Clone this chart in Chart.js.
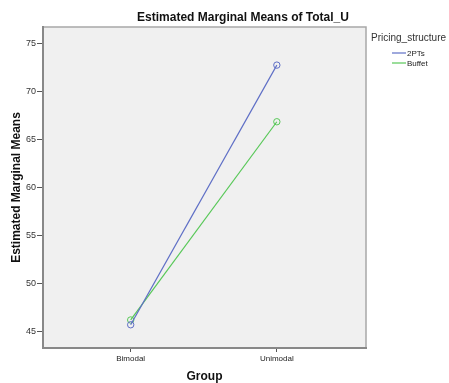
<!DOCTYPE html>
<html>
<head>
<meta charset="utf-8">
<script src="https://cdn.jsdelivr.net/npm/chart.js@4/dist/chart.umd.min.js"></script>
<style>
html,body{margin:0;padding:0;background:#fff;}
#wrap{width:449px;height:383px;position:relative;}
</style>
</head>
<body>
<div id="wrap"><canvas id="c" width="449" height="383"></canvas></div>
<script>
const chartTitle = "Estimated Marginal Means of Total_U";
const xTitle = "Group";
const yTitle = "Estimated Marginal Means";
const legendTitle = "Pricing_structure";
const categories = ["Bimodal", "Unimodal"];
const seriesNames = ["2PTs", "Buffet"];
const values2PTs = [45.75, 72.8];
const valuesBuffet = [46.25, 66.9];
const yTicks = [45, 50, 55, 60, 65, 70, 75];
const colors = ["#5f6fc6", "#58c858"];

const FONT = "'Liberation Sans', Arial, sans-serif";

function toPoints(vals){ return vals.map((v,i)=>({x:i+1, y:v})); }

const bgPlugin = {
  id: 'bg',
  beforeDraw(chart){
    const {ctx, chartArea:a} = chart;
    ctx.save();
    ctx.fillStyle = '#f0f0f0';
    ctx.fillRect(a.left, a.top, a.right-a.left, a.bottom-a.top);
    ctx.strokeStyle = '#a8a8a8';
    ctx.lineWidth = 1.5;
    ctx.strokeRect(a.left, a.top, a.right-a.left, a.bottom-a.top);
    ctx.restore();
  },
  afterDraw(chart){
    const {ctx, chartArea:a} = chart;
    ctx.save();
    ctx.fillStyle = '#111';
    ctx.font = "bold 12px " + FONT;
    ctx.textAlign = 'center';
    ctx.textBaseline = 'middle';
    ctx.fillText(chartTitle, 243, 18);
    // legend
    ctx.textAlign = 'left';
    ctx.fillStyle = '#333';
    ctx.font = "10px " + FONT;
    ctx.fillText(legendTitle, 371, 38);
    ctx.font = "8px " + FONT;
    chart.data.datasets.forEach((ds,i)=>{
      const y = 53 + i*10;
      ctx.strokeStyle = ds.borderColor;
      ctx.lineWidth = 1.2;
      ctx.beginPath();
      ctx.moveTo(392, y); ctx.lineTo(406, y);
      ctx.stroke();
      ctx.fillStyle = '#222';
      ctx.fillText(ds.label, 407, y+0.5);
    });
    ctx.restore();
  }
};

new Chart(document.getElementById('c'), {
  type: 'scatter',
  data: {
    datasets: [
      {label: seriesNames[0], data: toPoints(values2PTs), borderColor: colors[0], backgroundColor: 'rgba(0,0,0,0)', showLine: true, borderWidth: 1.2, pointRadius: 3.2, pointBorderWidth: 1, pointStyle: 'circle'},
      {label: seriesNames[1], data: toPoints(valuesBuffet), borderColor: colors[1], backgroundColor: 'rgba(0,0,0,0)', showLine: true, borderWidth: 1.2, pointRadius: 3.2, pointBorderWidth: 1, pointStyle: 'circle'}
    ]
  },
  options: {
    responsive: false,
    animation: false,
    devicePixelRatio: 1,
    layout: {padding: {left: 0, top: 27, right: 83, bottom: 0}},
    plugins: {legend: {display: false}, title: {display: false}, tooltip: {enabled: false}},
    scales: {
      x: {
        type: 'linear', min: 0.4, max: 2.61,
        afterBuildTicks(s){ s.ticks = categories.map((c,i)=>({value:i+1})); },
        afterFit(s){ s.height = 35; },
        ticks: {callback:(v)=>categories[v-1], font:{family: FONT, size: 8}, color:'#222', padding: 2, maxRotation: 0, autoSkip: false},
        grid: {drawOnChartArea: false, drawTicks: true, tickLength: 4, color: '#555', tickWidth: 1},
        border: {display: true, color: '#888', width: 2},
        title: {display: true, text: xTitle, font:{family: FONT, size: 12, weight: 'bold', lineHeight: 1}, color:'#111', padding: {top:0, bottom: 0}}
      },
      y: {
        min: 43.33, max: 76.77,
        afterBuildTicks(s){ s.ticks = yTicks.map(v=>({value:v})); },
        afterFit(s){ s.width = 43; },
        ticks: {font:{family: FONT, size: 9}, color:'#333', padding: 1},
        grid: {drawOnChartArea: false, drawTicks: true, tickLength: 6, color: '#555', tickWidth: 1},
        border: {display: true, color: '#888', width: 2},
        title: {display: true, text: yTitle, font:{family: FONT, size: 12, weight: 'bold'}, color:'#111', padding: {top: 9, bottom: 0}}
      }
    }
  },
  plugins: [bgPlugin]
});
</script>
</body>
</html>
